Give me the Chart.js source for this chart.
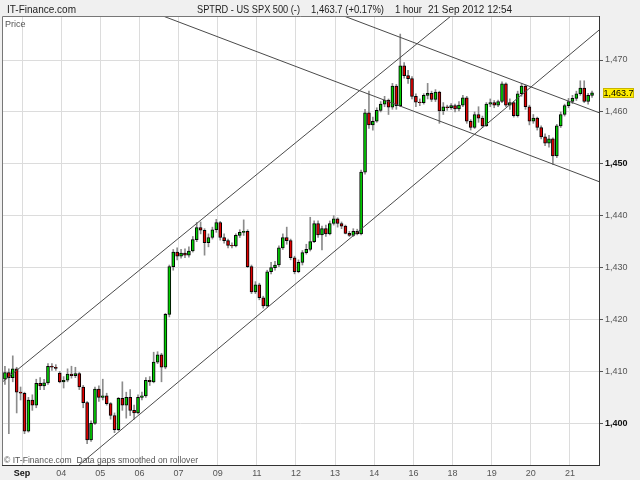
<!DOCTYPE html>
<html><head><meta charset="utf-8">
<script src="https://cdn.jsdelivr.net/npm/chart.js@4.4.0/dist/chart.umd.min.js"></script>
<style>html,body{margin:0;padding:0;background:#f0f0f0;}canvas{display:block}</style>
</head><body>
<canvas id="c" width="640" height="480"></canvas>
<script>
const opens=[1408.5,1409.8,1408.8,1410.5,1406,1405.8,1398.5,1404.5,1403.5,1407.7,1407.2,1407.8,1411,1410.8,1409.7,1408,1408.3,1409.5,1409.2,1409.6,1407,1404,1396.8,1400,1406.6,1405,1405.3,1403.8,1401.5,1398.8,1404.8,1403.5,1405,1402.5,1402,1405,1405.3,1408.3,1408,1411.8,1413.2,1410.8,1421,1430.2,1433,1432.2,1432.8,1432.4,1433.2,1435.4,1437.7,1437.2,1434.8,1435.8,1437.3,1438.7,1435.8,1435.2,1434.3,1434.2,1436.2,1436.8,1437,1430.2,1425.3,1426.7,1424.2,1422.6,1429.2,1430,1430.5,1433.8,1435.8,1435.2,1431.9,1429.2,1431,1432.9,1433.5,1435,1438.5,1436.3,1437.5,1436.5,1438.5,1439.4,1438.5,1438,1436.6,1436.2,1437,1436.5,1448.4,1459.8,1457.5,1458.2,1460.3,1461.5,1462.3,1460.9,1465,1461.2,1468.9,1467,1466.4,1463,1461.9,1461.8,1463.2,1463.6,1462.4,1463.8,1460.2,1461,1460.8,1461.2,1460.6,1461.3,1462.7,1458.2,1457,1459.5,1458.8,1457.3,1461.5,1461.8,1461.3,1462,1465.4,1461.3,1461.8,1459.3,1463.5,1465,1461,1458.2,1458.8,1457,1455.2,1454,1454.8,1451.5,1457.3,1459.5,1461.2,1462,1462.6,1463.5,1464.6,1462,1463.2];
const highs=[1411,1410.5,1413,1410.8,1407,1406,1405,1405.5,1408.5,1408.8,1408.5,1411.5,1411.5,1411.3,1410,1409,1410.5,1411,1410.8,1409.8,1407.3,1404.2,1400.5,1407,1407.2,1408.5,1405.8,1404,1402,1405,1408,1406,1406.5,1403.5,1405.5,1406,1408.8,1409,1413.7,1413.8,1413.5,1421.2,1430.5,1433.5,1433.8,1433.5,1433.6,1434,1436,1438.7,1438.8,1437.5,1436.5,1437.8,1439.3,1438.9,1436.5,1435.5,1434.8,1436.5,1437.3,1439.2,1437.3,1430.5,1427.3,1427,1424.5,1429.5,1431,1431.2,1434.2,1436.5,1437.8,1435.5,1432.2,1431.5,1433.3,1434.5,1439.7,1439,1439,1438,1438.2,1439,1440,1439.6,1438.8,1438.2,1437,1437.5,1437.4,1448.8,1460.5,1464,1459,1460.8,1462,1463,1462.5,1465.5,1465.3,1475,1469.5,1468,1466.8,1463.5,1462.5,1463.5,1465.5,1464,1464.3,1464,1461.8,1461.3,1461.6,1461.5,1462,1463.2,1463,1458.5,1460,1461,1459.2,1461.8,1462.5,1462.2,1462.3,1465.8,1465.6,1462.5,1462,1464,1465.5,1465.2,1461.3,1459.5,1459,1457.3,1455.8,1455.5,1455,1457.6,1460,1461.5,1462.6,1463.2,1464,1466,1466,1463.6,1464];
const lows=[1407.5,1398,1408,1402,1404.5,1398,1398.3,1402.5,1403,1406.5,1406.5,1407.5,1410.2,1410.2,1407.8,1406.8,1408,1408.7,1408.8,1406.5,1403,1396.1,1396.5,1399.8,1404.2,1404.5,1403.5,1400.8,1398.2,1398.6,1402.5,1401,1401.5,1400.8,1401.8,1404.5,1405,1407.3,1407.8,1411.5,1408,1410.5,1420.5,1429.5,1431.5,1431.8,1431.9,1432,1433,1435,1436.5,1432.4,1434,1435.5,1436.8,1435.3,1434.7,1433.8,1433.8,1434,1435.8,1436.2,1430,1425,1425,1423.8,1422.2,1422.4,1428.8,1429.5,1430.2,1433.5,1434.5,1431.5,1428.8,1429,1430.5,1432.6,1433.2,1434.8,1435.8,1433.4,1436,1436.3,1438.2,1437.8,1437.5,1436.5,1436,1436,1436.3,1436.3,1448,1456.8,1456.5,1458,1460,1461,1459.5,1460.5,1460.5,1461,1466.5,1465.5,1462.5,1461,1461.2,1461.5,1462.5,1462,1462,1457.8,1459.5,1460.3,1460.5,1460,1460.2,1461,1457.8,1456.5,1456.8,1458,1457,1457.2,1461,1460.8,1461,1461.8,1461,1460.5,1459,1459,1463,1460.5,1457.5,1457.8,1456.5,1454.8,1453.5,1453.2,1449.9,1451.2,1457,1459.2,1460.8,1461.6,1462.2,1463.2,1461.8,1461.5,1462.8];
const closes=[1409.8,1408.8,1410.5,1406,1405.8,1398.5,1404.5,1403.5,1407.7,1407.2,1407.8,1411,1410.8,1410.6,1408,1408.3,1409.5,1409.2,1409.6,1407,1404,1396.8,1400,1406.6,1405,1405.3,1403.8,1401.5,1398.8,1404.8,1403.5,1405,1402.5,1402,1405,1405.3,1408.3,1408,1411.8,1413.2,1410.8,1421,1430.2,1433,1432.2,1432.8,1432.4,1433.2,1435.4,1437.7,1437.2,1434.8,1435.8,1437.3,1438.7,1435.8,1435.2,1434.3,1434.2,1436.2,1436.8,1437,1430.2,1425.3,1426.7,1424.2,1422.6,1429.2,1430,1430.5,1433.8,1435.8,1435.2,1431.9,1429.2,1431,1432.9,1433.5,1435,1438.5,1436.3,1437.5,1436.5,1438.5,1439.4,1438.5,1438,1436.6,1436.2,1437,1436.5,1448.4,1459.8,1457.5,1458.2,1460.3,1461.5,1462.3,1460.9,1465,1461.2,1468.9,1467,1466.4,1463,1461.9,1461.8,1463.2,1463.6,1462.4,1463.8,1460.2,1461,1460.8,1461.2,1460.6,1461.3,1462.7,1458.2,1457,1459.5,1458.8,1457.3,1461.5,1461.8,1461.3,1462,1465.4,1461.3,1461.8,1459.3,1463.5,1465,1461,1458.2,1458.8,1457,1455.2,1454,1454.8,1451.5,1457.3,1459.5,1461.2,1462,1462.6,1463.5,1464.6,1462,1463.2,1463.7];
const xTickLabels=['Sep','04','05','06','07','09','11','12','13','14','16','18','19','20','21'];
const yTickValues=[1400,1410,1420,1430,1440,1450,1460,1470];
const lineUpperRising=[{x:-0.75,y:1407.9},{x:114,y:1478.5}];
const lineLowerRising=[{x:18.94,y:1391.97},{x:151.78,y:1475.76}];
const lineUpperFalling=[{x:86.6,y:1478.48},{x:151.78,y:1459.85}];
const lineLowerFalling=[{x:40.38,y:1478.48},{x:151.78,y:1446.57}];

const FONT='"Liberation Sans", Arial, sans-serif';
const firstTick=4.36, tickStep=10;
const idx=closes.map((_,i)=>i);
const wickData=idx.map(i=>({x:i,y:[lows[i],highs[i]]}));
const bodyData=idx.map(i=>({x:i,y:[opens[i],closes[i]]}));
const bodyColors=idx.map(i=>closes[i]>=opens[i]?'#00d000':'#e00000');
const lineDs=(d)=>({type:'line',data:d,borderColor:'#4a4a4a',borderWidth:1,pointRadius:0,fill:false,order:1,tension:0});

const deco={
  id:'deco',
  beforeDraw(chart){
    const c=chart.ctx,a=chart.chartArea;
    c.save();
    c.fillStyle='#f0f0f0';c.fillRect(0,0,chart.width,chart.height);
    c.fillStyle='#ffffff';c.fillRect(a.left,a.top,a.right-a.left,a.bottom-a.top);
    c.restore();
  },
  afterDraw(chart){
    const c=chart.ctx,a=chart.chartArea;
    c.save();
    c.strokeStyle='#777';c.lineWidth=1;
    c.beginPath();c.moveTo(a.left+0.5,a.bottom);c.lineTo(a.left+0.5,a.top+0.5);c.lineTo(a.right,a.top+0.5);c.stroke();
    c.fillStyle='#222';c.textBaseline='alphabetic';c.textAlign='left';
    c.font='11px '+FONT;
    c.fillText('IT-Finance.com',7,12.5,69);
    c.fillText('SPTRD - US SPX 500 (-)',197,12.5,103);
    c.fillText('1,463.7 (+0.17%)',311,12.5,73);
    c.fillText('1 hour',395,12.5,27);
    c.fillText('21 Sep 2012 12:54',428,12.5,84);
    c.fillStyle='#555';c.font='9px '+FONT;
    c.fillText('Price',5,27);
    c.fillText('\u00A9 IT-Finance.com  Data gaps smoothed on rollover',4,463,194);
    const last=closes[closes.length-1];
    const y=Math.round(chart.scales.y.getPixelForValue(last));
    c.fillStyle='#ffee00';c.fillRect(603,y-5,31,10);
    c.strokeStyle='#c8b400';c.strokeRect(603.5,y-4.5,30,9);
    c.fillStyle='#000';c.textAlign='center';c.textBaseline='middle';c.font='9px '+FONT;
    c.fillText(last.toLocaleString('en-US',{minimumFractionDigits:1}),618.5,y+0.5);
    c.restore();
  }
};

new Chart(document.getElementById('c'),{
  type:'bar',
  data:{datasets:[
    {type:'bar',data:wickData,backgroundColor:'#8c8c8c',borderWidth:0,barThickness:1,grouped:false,order:3},
    {type:'bar',data:bodyData,backgroundColor:bodyColors,borderColor:'#000',borderWidth:1,borderSkipped:false,barThickness:3,grouped:false,order:2},
    lineDs(lineUpperRising),lineDs(lineLowerRising),lineDs(lineUpperFalling),lineDs(lineLowerFalling)
  ]},
  options:{
    responsive:false,animation:false,events:[],
    layout:{padding:{left:2,top:16,right:0,bottom:0}},
    plugins:{legend:{display:false},tooltip:{enabled:false},title:{display:false}},
    scales:{
      x:{type:'linear',min:-0.75,max:151.78,offset:false,
        afterBuildTicks(s){s.ticks=xTickLabels.map((_,k)=>({value:firstTick+tickStep*k}));},
        afterFit(s){s.height=15;},
        grid:{color:'#dcdcdc',drawTicks:false,offset:false},
        border:{color:'#333',width:1},
        ticks:{autoSkip:false,maxRotation:0,minRotation:0,padding:3,
          callback:(v,i)=>xTickLabels[i],
          font:(ctx)=>({family:FONT,size:9,weight:ctx.index===0?'bold':'normal'}),
          color:(ctx)=>ctx.index===0?'#111':'#555'}
      },
      y:{type:'linear',position:'right',min:1391.97,max:1478.48,
        afterBuildTicks(s){s.ticks=yTickValues.map(v=>({value:v}));},
        afterFit(s){s.width=41;},
        grid:{color:'#dcdcdc',tickLength:4,tickColor:'#555'},
        border:{color:'#333',width:1},
        ticks:{padding:2,
          callback:(v)=>v.toLocaleString('en-US'),
          font:(ctx)=>({family:FONT,size:9,weight:(ctx.tick&&ctx.tick.value%50===0)?'bold':'normal'}),
          color:(ctx)=>(ctx.tick&&ctx.tick.value%50===0)?'#111':'#555'}
      }
    }
  },
  plugins:[deco]
});
</script>
</body></html>
